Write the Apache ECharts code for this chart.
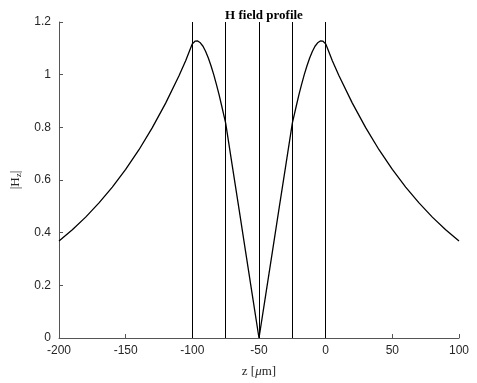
<!DOCTYPE html>
<html>
<head>
<meta charset="utf-8">
<script src="https://cdn.jsdelivr.net/npm/echarts@6/dist/echarts.min.js"></script>
<style>
  html, body { margin: 0; padding: 0; background: #fff; }
  #chart { width: 477px; height: 383px; }
</style>
</head>
<body>
<div id="chart"></div>
<script>
// Position along the structure (µm)
const zPositions = [
  -200, -190, -180, -170, -160, -150, -140, -130, -120, -110, -105, -102,
  -100, -98, -96, -94, -92, -90, -88, -86, -84, -82, -80, -78, -76, -75,
  -70, -65, -60, -55, -50, -45, -40, -35, -30,
  -25, -24, -22, -20, -18, -16, -14, -12, -10, -8, -6, -4, -2, 0,
  2, 5, 10, 20, 30, 40, 50, 60, 70, 80, 90, 100
];
// Field magnitude |Hz| at each position
const hzMagnitude = [
  0.368, 0.411, 0.459, 0.513, 0.573, 0.640, 0.715, 0.799, 0.892, 0.996, 1.053, 1.092,
  1.117, 1.127, 1.128, 1.121, 1.108, 1.088, 1.063, 1.034, 1.001, 0.964, 0.925, 0.882, 0.838, 0.816,
  0.653, 0.490, 0.326, 0.163, 0.000, 0.163, 0.326, 0.490, 0.653,
  0.816, 0.838, 0.882, 0.925, 0.964, 1.001, 1.034, 1.063, 1.088, 1.108, 1.121, 1.128, 1.127, 1.117,
  1.092, 1.053, 0.996, 0.892, 0.799, 0.715, 0.640, 0.573, 0.513, 0.459, 0.411, 0.368
];
// Layer interfaces (µm)
const interfaces = [-100, -75, -50, -25, 0];

const axisColor = '#555555';
const textColor = '#262626';
const sans = '"Liberation Sans", Arial, Helvetica, sans-serif';
const serif = '"Liberation Serif", "Times New Roman", serif';

const chart = echarts.init(document.getElementById('chart'), null, { renderer: 'canvas' });

chart.setOption({
  animation: false,
  backgroundColor: '#ffffff',
  title: {
    text: 'H field profile',
    left: 259,
    textAlign: 'center',
    top: 4,
    textStyle: { fontFamily: serif, fontWeight: 'bold', fontSize: 13, color: '#000' }
  },
  grid: { left: 59, right: 18, top: 22, bottom: 45, containLabel: false },
  xAxis: {
    type: 'value',
    min: -200, max: 100, interval: 50,
    name: '{n|z [}{i|μ}{n|m]}',
    nameLocation: 'middle',
    nameGap: 27,
    nameTextStyle: {
      rich: {
        n: { fontFamily: serif, fontSize: 13, color: textColor },
        i: { fontFamily: serif, fontSize: 13, fontStyle: 'italic', color: textColor }
      }
    },
    axisLine: { show: true, onZero: false, lineStyle: { color: axisColor, width: 1 } },
    axisTick: { show: true, inside: true, length: 4, lineStyle: { color: axisColor } },
    axisLabel: { fontFamily: sans, fontSize: 12, color: textColor, margin: 7 },
    splitLine: { show: false }
  },
  yAxis: {
    type: 'value',
    min: 0, max: 1.2, interval: 0.2,
    name: '{n||H}{s|z}{n||}',
    nameLocation: 'middle',
    nameGap: 33,
    nameRotate: 90,
    nameTextStyle: {
      rich: {
        n: { fontFamily: serif, fontSize: 13, color: textColor },
        s: { fontFamily: serif, fontSize: 9, color: textColor, verticalAlign: 'bottom', padding: [7, 0, 0, 0] }
      }
    },
    axisLine: { show: true, onZero: false, lineStyle: { color: axisColor, width: 1 } },
    axisTick: { show: true, inside: true, length: 4, lineStyle: { color: axisColor } },
    axisLabel: { fontFamily: sans, fontSize: 12, color: textColor, margin: 8 },
    splitLine: { show: false }
  },
  series: [
    {
      type: 'line',
      data: zPositions.map((z, i) => [z, hzMagnitude[i]]),
      showSymbol: false,
      smooth: false,
      lineStyle: { color: '#000', width: 1.3 },
      markLine: {
        silent: true,
        symbol: 'none',
        label: { show: false },
        lineStyle: { color: '#000', width: 1, type: 'solid' },
        data: interfaces.map(v => ({ xAxis: v }))
      }
    }
  ]
});
</script>
</body>
</html>
